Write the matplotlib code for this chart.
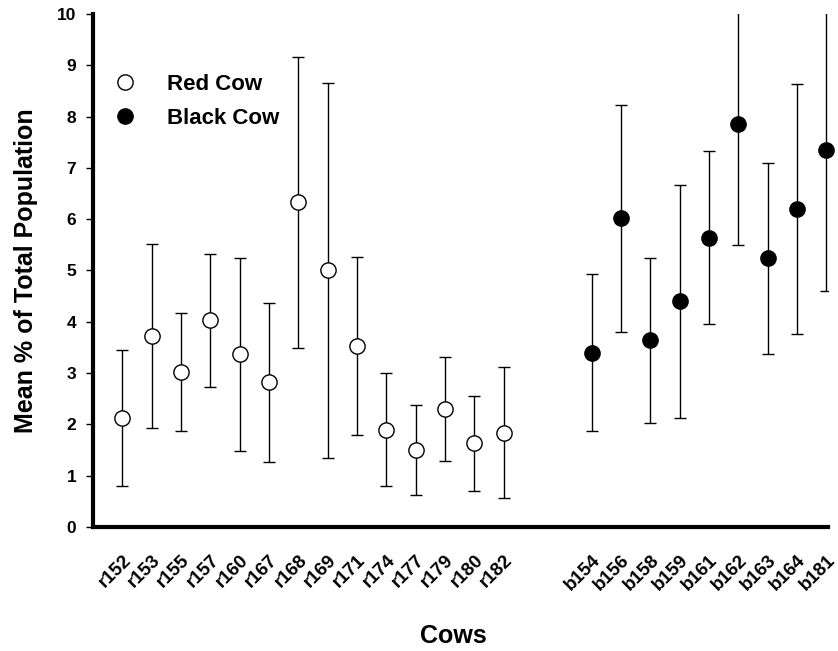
import matplotlib
matplotlib.use("Agg")
import matplotlib.pyplot as plt
import numpy as np

plt.rcParams['font.family'] = ['Liberation Sans', 'DejaVu Sans']
plt.rcParams['font.weight'] = 'bold'

red_cows = ["r152", "r153", "r155", "r157", "r160", "r167", "r168",
            "r169", "r171", "r174", "r177", "r179", "r180", "r182"]
red_mean = [2.12, 3.72, 3.03, 4.03, 3.37, 2.82, 6.33,
            5.00, 3.53, 1.90, 1.50, 2.30, 1.63, 1.84]
red_err = [1.33, 1.80, 1.15, 1.30, 1.88, 1.55, 2.84,
           3.66, 1.73, 1.10, 0.88, 1.02, 0.92, 1.28]

black_cows = ["b154", "b156", "b158", "b159", "b161", "b162", "b163", "b164", "b181"]
black_mean = [3.40, 6.02, 3.64, 4.40, 5.64, 7.86, 5.24, 6.20, 7.35]
black_err = [1.53, 2.21, 1.61, 2.27, 1.68, 2.37, 1.86, 2.44, 2.75]

x_red = np.arange(len(red_cows))
x_black = np.arange(len(black_cows)) + len(red_cows) + 2

fig = plt.figure(figsize=(8.38, 6.51), dpi=100)
ax = fig.add_axes([0.111, 0.1905, 0.877, 0.788])

for x, m, e in [(x_red, red_mean, red_err), (x_black, black_mean, black_err)]:
    ax.errorbar(x, m, yerr=e, fmt='none', ecolor='black', elinewidth=1,
                capsize=4, capthick=1)

ax.plot(x_red, red_mean, 'o', ms=11, mfc='white', mec='black', mew=1,
        clip_on=False, zorder=3, label='Red Cow')
ax.plot(x_black, black_mean, 'o', ms=11, mfc='black', mec='black', mew=1,
        clip_on=False, zorder=3, label='Black Cow')

ax.set_xlim(-1, 24.05)
ax.set_ylim(0, 10)
ax.set_yticks(range(0, 11))
ax.set_xticks(np.concatenate([x_red, x_black]))
ax.set_xticklabels(red_cows + black_cows, rotation=45, ha='right',
                   rotation_mode='anchor', fontsize=13.5, fontweight='bold')
ax.tick_params(axis='x', length=0, pad=18)
ax.tick_params(axis='y', length=5, width=1, labelsize=12.5, pad=7)
for lab in ax.get_yticklabels():
    lab.set_fontweight('bold')

for s in ['top', 'right']:
    ax.spines[s].set_visible(False)
ax.spines['left'].set_linewidth(3)
ax.spines['bottom'].set_linewidth(3)

ax.set_ylabel('Mean % of Total Population', fontsize=18, fontweight='bold', labelpad=14)
ax.set_xlabel('Cows', fontsize=18, fontweight='bold')
ax.xaxis.set_label_coords(0.49, -0.19)

ax.legend(loc='upper left', bbox_to_anchor=(0.0136, 0.883), frameon=False,
          borderpad=0, borderaxespad=0, handlelength=2, handletextpad=0.9,
          labelspacing=0.58, prop={'weight': 'bold', 'size': 16})

fig.savefig('out.png', dpi=100)
